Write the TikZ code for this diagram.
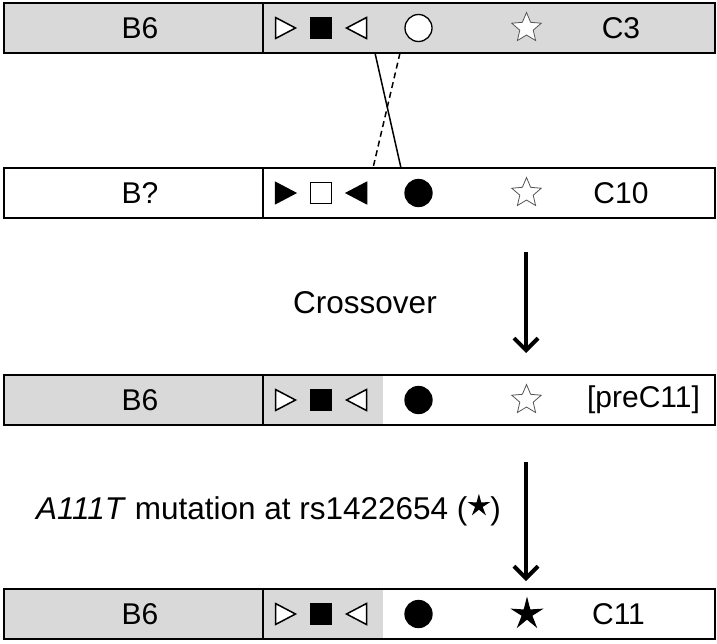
\documentclass[tikz,border=0pt]{standalone}
\usepackage{fontspec}
\setmainfont{Liberation Sans}
\usepackage{tikz}
\usetikzlibrary{arrows.meta,shapes.geometric}
\definecolor{bgray}{HTML}{D9D9D9}
\definecolor{sgray}{HTML}{555555}
\tikzset{
  seg/.style   ={draw=black, line width=1.6pt, minimum height=50pt, inner sep=0pt},
  lab/.style   ={font=\fontsize{30}{35}\selectfont, inner sep=0pt},
  big/.style   ={font=\fontsize{31.5}{37}\selectfont, inner sep=0pt},
  sym/.style   ={draw=black, line width=1.5pt, line join=miter},
  dot/.style   ={circle, draw=black, line width=1.3pt, minimum size=27pt, inner sep=0pt},
  ostar/.style ={star, star points=5, star point ratio=2.2, draw=sgray, line width=0.8pt,
                 fill=white, minimum size=31pt, inner sep=0pt},
  fstar/.style ={star, star points=5, star point ratio=3.1, fill=black, minimum size=35pt,
                 inner sep=0pt},
  xo/.style    ={draw=black, line width=1.5pt},
  fl/.style    ={draw=black, line width=4pt, -{Straight Barb[length=12pt,width=24pt,line width=4pt]}},
}
% marker glyphs: centre x, centre y, fill
\newcommand{\trir}[3]{\draw[sym,fill=#3] (#1-10,#2-10.5) -- (#1+10,#2) -- (#1-10,#2+10.5) -- cycle;}
\newcommand{\tril}[3]{\draw[sym,fill=#3] (#1+10,#2-10.5) -- (#1-10,#2) -- (#1+10,#2+10.5) -- cycle;}
\newcommand{\sqr}[3]{\draw[sym,fill=#3] (#1-10.5,#2-10.5) rectangle (#1+10.5,#2+10.5);}
\newcommand{\mutstar}{\tikz[baseline=-0.8ex]\node[star, star points=5, star point ratio=3.0,
  fill=black, minimum size=24pt, inner sep=0pt, anchor=center] at (0,0) {};}

\begin{document}
\begin{tikzpicture}[x=1pt,y=-1pt]
  \useasboundingbox (0,0) rectangle (717,643);
  \def\xl{3}      % left edge
  \def\xd{262}    % divider
  \def\xr{714}    % right edge
  \def\xg{383}    % end of the B6 stretch after crossover

  % ---------------- the four haplotype bars ----------------------------------
  \foreach \n/\y/\lf/\rg/\bl/\cl/\cx in {1/28/bgray/\xr/B6/C3/621, 2/193/white/\xd/B?/C10/621,
                                    3/400/bgray/\xg/B6/{[preC11]}/643.5, 4/614/bgray/\xg/B6/C11/618.5} {
    \fill[bgray] (\xd,\y-25) rectangle (\rg,\y+25);
    \node[seg, fill=\lf, minimum width=\xd-\xl, anchor=west] (left\n) at (\xl,\y) {};
    \node[seg, minimum width=\xr-\xd, anchor=west] (right\n) at (\xd,\y) {};
    \node[lab] (bl\n) at (140,\y) {\bl};
    \node[lab] (cl\n) at (\cx,\y) {\cl};
  }

  % ---------------- markers --------------------------------------------------
  \trir{285.5}{28}{white}  \sqr{321}{28}{black} \tril{356.5}{28}{white}
  \trir{285.5}{193}{black} \sqr{321}{193}{white} \tril{356.5}{193}{black}
  \foreach \y in {400,614} {\trir{285.5}{\y}{white} \sqr{321}{\y}{black} \tril{356.5}{\y}{white}}
  \node[dot, fill=white] (m1) at (418.5,28) {};
  \foreach \n/\y in {2/193,3/400,4/614} \node[dot, fill=black] (m\n) at (418.5,\y) {};
  \foreach \n/\y in {1/28,2/193,3/400} \node[ostar] (s\n) at (526.5,\y) {};
  \node[fstar] (s4) at (527,614) {};

  % ---------------- crossover between C3 and C10 -----------------------------
  \coordinate (xa) at (375,53);  \coordinate (xb) at (401,168);
  \coordinate (xc) at (400,53);  \coordinate (xd) at (373,168);
  \draw[xo] (xa) -- (xb);
  \draw[xo, dashed, dash pattern=on 6pt off 4pt] (xc) -- (xd);

  % ---------------- steps ----------------------------------------------------
  \coordinate (a1) at (526,252); \coordinate (b1) at (526,353);
  \coordinate (a2) at (526,462); \coordinate (b2) at (526,581);
  \draw[fl] (a1) -- (b1);
  \draw[fl] (a2) -- (b2);
  \node[big, anchor=base] (tx1) at (365,313) {Crossover};
  \node[big, anchor=base east] (tx2) at (501,519) {\textit{A111T} mutation at rs1422654 (\mutstar)};
\end{tikzpicture}
\end{document}
